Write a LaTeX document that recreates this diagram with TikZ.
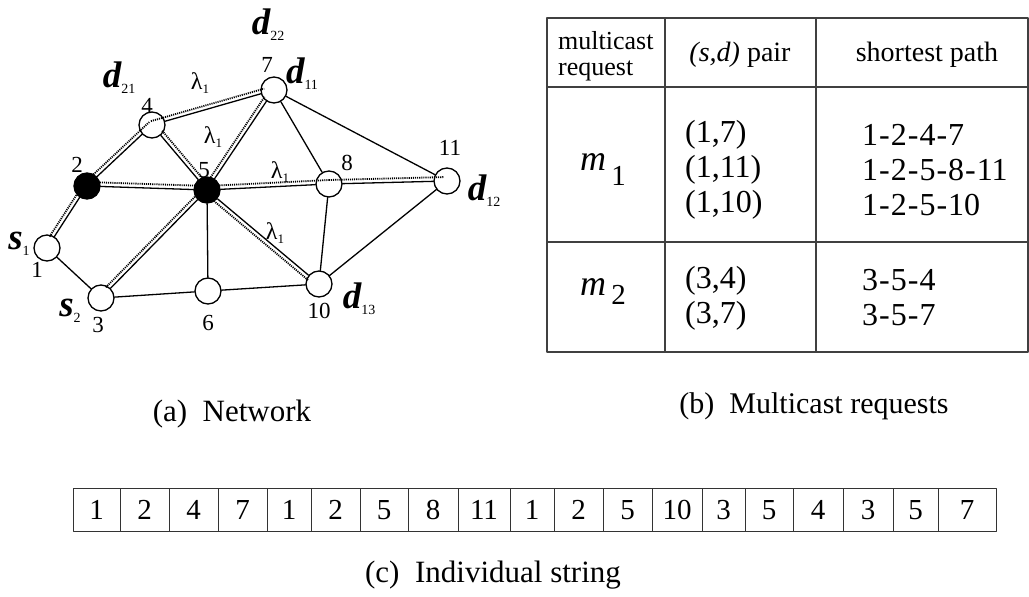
\documentclass[tikz,border=0pt]{standalone}
\usepackage{fontspec}
\setmainfont{Liberation Serif}
\usetikzlibrary{calc}

\newcommand\hoff{4pt}
\newcommand\hlink[3][]{\draw[hl,#1] ($(#2)!\hoff!90:(#3)$) -- ($(#3)!\hoff!-90:(#2)$);}
\newcommand\dst[2]{{\fontsize{37}{37}\selectfont\bfseries\itshape #1}\raisebox{-6pt}{\fontsize{14}{14}\selectfont #2}}
\newcommand\lam{{\fontsize{24}{24}\selectfont λ}\raisebox{-4pt}{\fontsize{13}{13}\selectfont 1}}
\newcommand\mreq[2]{{\fontsize{36}{36}\selectfont\itshape m}\,\raisebox{-#2pt}{\fontsize{29}{29}\selectfont #1}}
\newcommand\hy{\kern1pt-\kern1pt}

\begin{document}
\begin{tikzpicture}[x=1pt, y=-1pt, line cap=round, line join=round,
  vtx/.style={circle, draw, line width=1.3pt, fill=white, minimum size=26pt, inner sep=0pt},
  hub/.style={vtx, fill=black},
  lnk/.style={line width=1.3pt},
  hl/.style={line width=1.8pt, black, line cap=butt, dash pattern=on 1.1pt off 1pt},
  num/.style={font=\fontsize{23}{23}\selectfont, inner sep=0pt},
  tag/.style={inner sep=0pt},
  grid/.style={line width=1.2pt, black!75},
  small/.style={font=\fontsize{26}{26}\selectfont, inner sep=0pt, align=left},
  txt/.style={font=\fontsize{32}{35}\selectfont, inner sep=0pt, align=left},
  cell/.style={draw=black!80, line width=1pt, inner sep=0pt, minimum height=43pt, font=\fontsize{29}{29}\selectfont},
  caption/.style={font=\fontsize{31}{31}\selectfont, inner sep=0pt}]

  \useasboundingbox (0,0) rectangle (1029,597);

  \node[vtx] (n1) at (47,248) {};
  \node[hub] (n2) at (87,186) {};
  \node[vtx] (n3) at (101,298) {};
  \node[vtx] (n4) at (152,125) {};
  \node[hub] (n5) at (207,190) {};
  \node[vtx] (n6) at (208,291) {};
  \node[vtx] (n7) at (274,90) {};
  \node[vtx] (n8) at (329,184) {};
  \node[vtx] (n10) at (319,284) {};
  \node[vtx] (n11) at (447,181) {};

  \foreach \a/\b in {n1/n2, n1/n3, n2/n4, n2/n5, n3/n5, n3/n6, n4/n5, n4/n7, n5/n6,
                     n5/n7, n5/n8, n5/n10, n6/n10, n7/n8, n7/n11, n8/n10, n8/n11, n10/n11}
    \draw[lnk] (\a) -- (\b);

  \hlink[shorten <=11pt]{n1}{n2}
  \hlink{n2}{n4}
  \hlink[shorten >=9pt]{n4}{n7}
  \hlink{n2}{n5}
  \hlink{n5}{n8}
  \hlink[shorten >=3pt]{n8}{n11}
  \hlink[shorten <=11pt]{n10}{n5}
  \hlink[shorten <=11pt]{n3}{n5}
  \hlink[shorten <=11pt]{n4}{n5}
  \hlink[shorten >=11pt]{n5}{n7}

  \node[num] (l1) at (37,270) {1};
  \node[num] (l2) at (77,165) {2};
  \node[num] (l3) at (98,325) {3};
  \node[num] (l4) at (147,106) {4};
  \node[num] (l5) at (204,170) {5};
  \node[num] (l6) at (208,323) {6};
  \node[num] (l7) at (267,65) {7};
  \node[num] (l8) at (347,163) {8};
  \node[num] (l10) at (319,311) {10};
  \node[num] (l11) at (450,148) {11};

  \node[tag] (d22) at (268,25) {\dst{d}{22}};
  \node[tag] (d21) at (119,78) {\dst{d}{21}};
  \node[tag] (d11) at (302,74) {\dst{d}{11}};
  \node[tag] (d12) at (484,191) {\dst{d}{12}};
  \node[tag] (d13) at (359,299) {\dst{d}{13}};
  \node[tag] (s1) at (19,244) {\dst{s}{1}};
  \node[tag] (s2) at (70,311) {\dst{s}{2}};

  \node[tag] (w47) at (200,83) {\lam};
  \node[tag] (w57) at (213,137) {\lam};
  \node[tag] (w58) at (280,172) {\lam};
  \node[tag] (w510) at (275,233) {\lam};

  \draw[grid] (547,18) rectangle (1028,352);
  \draw[grid] (547,87) -- (1028,87);
  \draw[grid] (547,242) -- (1028,242);
  \draw[grid] (665,18) -- (665,352);
  \draw[grid] (816,18) -- (816,352);

  \node[small, anchor=west] (hreq) at (558,56) {multicast\\request};
  \node[txt, font=\fontsize{28}{28}\selectfont] (hpair) at (740,55) {\textit{(s,d)} pair};
  \node[txt, font=\fontsize{28}{28}\selectfont] (hpath) at (927,55) {shortest path};

  \node[txt] (m1) at (603,170) {\mreq{1}{15}};
  \node[txt, anchor=west] (p1) at (685,170) {(1,7)\\(1,11)\\(1,10)};
  \node[txt, anchor=west] (r1) at (862,170) {1\hy2\hy4\hy7\\1\hy2\hy5\hy8\hy11\\1\hy2\hy5\hy10};
  \node[txt] (m2) at (603,292) {\mreq{2}{9}};
  \node[txt, anchor=west] (p2) at (685,298) {(3,4)\\(3,7)};
  \node[txt, anchor=west] (r2) at (862,298) {3\hy5\hy4\\3\hy5\hy7};

  \node[caption] (capa) at (232,414) {(a)\ \ Network};
  \node[caption, font=\fontsize{30}{30}\selectfont] (capb) at (814,406) {(b)\ \ Multicast requests};

  \foreach \xa/\xb/\v [count=\i] in {73/120/1, 120/169/2, 169/218/4, 218/267/7, 267/311/1,
      311/360/2, 360/408/5, 408/458/8, 458/510/11, 510/554/1, 554/603/2, 603/652/5,
      652/702/10, 702/745/3, 745/793/5, 793/843/4, 843/893/3, 893/938/5, 938/996/7}
    \node[cell, minimum width={(\xb-\xa)*1pt}] (g\i) at ({(\xa+\xb)/2},510) {\v};

  \node[caption] (capc) at (493,575) {(c)\ \ Individual string};

\end{tikzpicture}
\end{document}
